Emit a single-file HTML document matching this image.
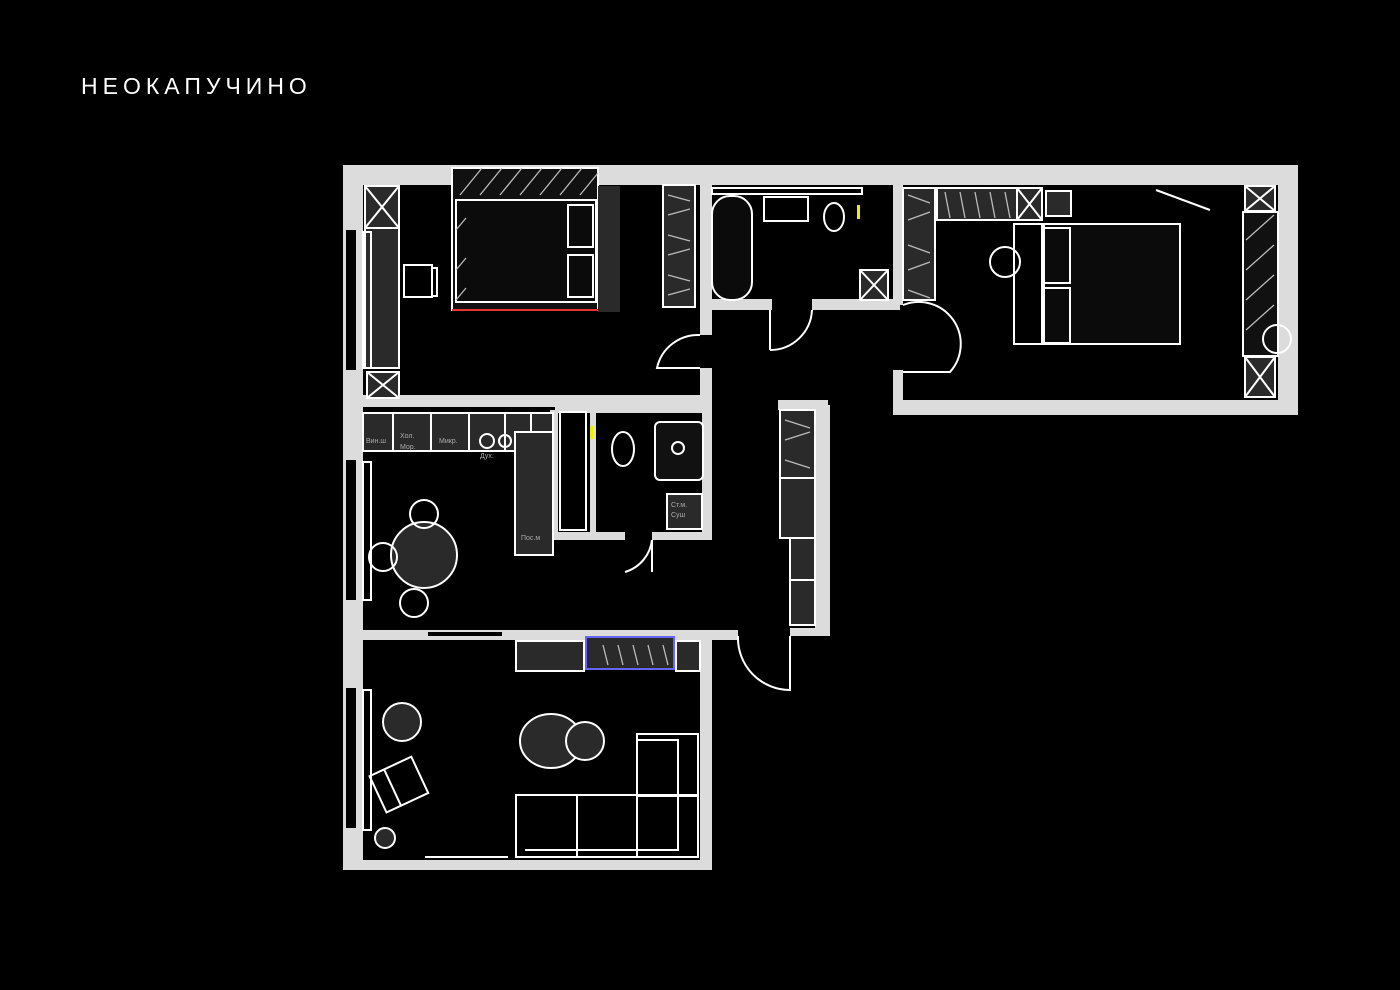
<!DOCTYPE html>
<html><head><meta charset="utf-8"><style>
html,body{margin:0;padding:0;background:#000;}
body{width:1400px;height:990px;position:relative;overflow:hidden;}
.t{position:absolute;left:81px;top:73px;color:#fff;font-family:"Liberation Sans","DejaVu Sans",sans-serif;font-size:23px;letter-spacing:5px;font-weight:normal;}
svg{position:absolute;left:0;top:0;}
</style></head><body>
<div class="t">НЕОКАПУЧИНО</div>
<svg width="1400" height="990" viewBox="0 0 1400 990" xmlns="http://www.w3.org/2000/svg">
<g fill="#dcdcdc">
<rect x="343" y="165" width="955" height="20"/>
<rect x="343" y="165" width="20" height="475"/>
<rect x="343" y="630" width="20" height="240"/>
<rect x="1278" y="165" width="20" height="250"/>
<rect x="893" y="400" width="405" height="15"/>
<rect x="893" y="185" width="10" height="120"/>
<rect x="893" y="370" width="10" height="40"/>
<rect x="343" y="395" width="367" height="12"/>
<rect x="700" y="185" width="12" height="150"/>
<rect x="700" y="368" width="12" height="40"/>
<rect x="712" y="299" width="60" height="11"/>
<rect x="812" y="299" width="88" height="11"/>
<rect x="815" y="405" width="15" height="230"/>
<rect x="778" y="400" width="50" height="10"/>
<rect x="343" y="630" width="395" height="10"/>
<rect x="790" y="628" width="40" height="8"/>
<rect x="555" y="405" width="155" height="8"/>
<rect x="550" y="410" width="8" height="130"/>
<rect x="590" y="410" width="6" height="128"/>
<rect x="550" y="532" width="75" height="8"/>
<rect x="652" y="532" width="58" height="8"/>
<rect x="702" y="405" width="10" height="135"/>
<rect x="700" y="630" width="12" height="240"/>
<rect x="343" y="860" width="369" height="10"/>
</g>
<g fill="#000">
<rect x="346" y="230" width="10" height="140"/>
<rect x="346" y="460" width="10" height="140"/>
<rect x="346" y="688" width="10" height="140"/>
<rect x="428" y="632" width="74" height="4"/>
</g>
<g stroke="#fff" stroke-width="2" fill="none">
<rect x="365" y="186" width="34" height="42" fill="#2a2a2a"/>
<path d="M365 186L399 228M399 186L365 228"/>
<rect x="365" y="228" width="34" height="140" fill="#2a2a2a"/>
<rect x="363" y="232" width="8" height="136"/>
<rect x="367" y="372" width="32" height="26" fill="#2a2a2a"/>
<path d="M367 372L399 398M399 372L367 398"/>
<rect x="404" y="265" width="28" height="32"/>
<rect x="432" y="268" width="5" height="28"/>
<rect x="452" y="168" width="146" height="142" fill="#111"/>
<rect x="456" y="200" width="140" height="102" fill="#0b0b0b"/>
<rect x="568" y="205" width="25" height="42"/>
<rect x="568" y="255" width="25" height="42"/>
<rect x="598" y="186" width="22" height="126" fill="#2a2a2a" stroke="none"/>
<rect x="663" y="185" width="32" height="122" fill="#2a2a2a"/>
<rect x="712" y="188" width="150" height="6"/>
<rect x="712" y="196" width="40" height="104" rx="18" fill="#0b0b0b"/>
<rect x="764" y="197" width="44" height="24"/>
<ellipse cx="834" cy="217" rx="10" ry="14"/>
<rect x="860" y="270" width="28" height="30" fill="#2a2a2a"/>
<path d="M860 270L888 300M888 270L860 300"/>
<path d="M812 310 A42 42 0 0 1 770 350 M770 310V350"/>
<path d="M700 335 A42 42 0 0 0 657 368 H700"/>
<path d="M903 305 A42 42 0 0 1 950 372 H903"/>
<rect x="903" y="188" width="32" height="112" fill="#2a2a2a"/>
<rect x="937" y="188" width="80" height="32" fill="#2a2a2a"/>
<rect x="1017" y="188" width="25" height="32" fill="#2a2a2a"/>
<path d="M1017 188L1042 220M1042 188L1017 220"/>
<rect x="1046" y="191" width="25" height="25" fill="#2a2a2a"/>
<rect x="1014" y="224" width="28" height="120"/>
<rect x="1044" y="224" width="136" height="120" fill="#0b0b0b"/>
<rect x="1044" y="228" width="26" height="55"/>
<rect x="1044" y="288" width="26" height="55"/>
<circle cx="1005" cy="262" r="15"/>
<path d="M1156 190 L1210 210"/>
<rect x="1245" y="186" width="30" height="25" fill="#2a2a2a"/>
<path d="M1245 186L1275 211M1275 186L1245 211"/>
<rect x="1243" y="212" width="35" height="144" fill="#111"/>
<circle cx="1277" cy="339" r="14"/>
<rect x="1245" y="357" width="30" height="40" fill="#2a2a2a"/>
<path d="M1245 357L1275 397M1275 357L1245 397"/>
<rect x="363" y="413" width="30" height="38" fill="#2a2a2a"/>
<rect x="393" y="413" width="38" height="38" fill="#2a2a2a"/>
<rect x="431" y="413" width="38" height="38" fill="#2a2a2a"/>
<rect x="469" y="413" width="36" height="38" fill="#2a2a2a"/>
<rect x="505" y="413" width="26" height="38" fill="#2a2a2a"/>
<rect x="531" y="413" width="22" height="142" fill="#2a2a2a"/>
<rect x="515" y="432" width="38" height="123" fill="#2a2a2a"/>
<circle cx="487" cy="441" r="7"/><circle cx="505" cy="441" r="6"/>
<rect x="363" y="462" width="8" height="138"/>
<circle cx="424" cy="555" r="33" fill="#2a2a2a"/>
<circle cx="424" cy="514" r="14"/><circle cx="383" cy="557" r="14"/><circle cx="414" cy="603" r="14"/>
<rect x="560" y="412" width="26" height="118" fill="#000"/>
<ellipse cx="623" cy="449" rx="11" ry="17"/>
<rect x="655" y="422" width="48" height="58" rx="5" fill="#111"/>
<circle cx="678" cy="448" r="6"/>
<rect x="667" y="494" width="35" height="35" fill="#2a2a2a"/>
<path d="M652 540 A38 38 0 0 1 625 572 M652 540V572"/>
<rect x="780" y="410" width="35" height="68" fill="#2a2a2a"/>
<rect x="780" y="478" width="35" height="60" fill="#2a2a2a"/>
<rect x="790" y="538" width="25" height="42" fill="#2a2a2a"/>
<rect x="790" y="580" width="25" height="45" fill="#2a2a2a"/>
<path d="M738 636 A52 52 0 0 0 790 690 V636"/>
<rect x="516" y="641" width="68" height="30" fill="#2a2a2a"/>
<rect x="586" y="637" width="88" height="32" fill="#2a2a2a" stroke="#66f"/>
<rect x="676" y="641" width="24" height="30" fill="#2a2a2a"/>
<rect x="363" y="690" width="8" height="140"/>
<circle cx="402" cy="722" r="19" fill="#2a2a2a"/>
<ellipse cx="551" cy="741" rx="31" ry="27" fill="#2a2a2a"/>
<circle cx="585" cy="741" r="19" fill="#2a2a2a"/>
<g transform="rotate(-25 398 785)"><rect x="376" y="765" width="46" height="40"/><path d="M392 765V805"/></g>
<circle cx="385" cy="838" r="10" fill="#2a2a2a"/>
<rect x="516" y="795" width="182" height="62"/>
<rect x="637" y="734" width="61" height="62"/>
<rect x="637" y="740" width="41" height="110"/>
<path d="M577 795V857M637 795V857M525 850H678"/>
<path d="M425 857H508"/>
</g>
<g stroke="#bbb" stroke-width="1.3">
<path d="M460 195l22-27M480 195l22-27M500 195l22-27M520 195l22-27M540 195l22-27M560 195l22-27M580 195l18-22M456 230l10-12M456 270l10-12M456 300l10-12"/>
<path d="M1246 240l28-25M1246 270l28-25M1246 300l28-25M1246 330l28-25"/>
<path d="M668 195l22 6M668 215l22-6M668 235l22 6M668 255l22-6M668 275l22 6M668 295l22-6M908 195l22 8M908 220l22-8M908 245l22 8M908 270l22-8M908 290l22 8M945 192l5 26M960 192l5 26M975 192l5 26M990 192l5 26M1005 192l5 26M785 420l25 8M785 440l25-8M785 460l25 8M603 645l5 20M618 645l5 20M633 645l5 20M648 645l5 20M663 645l5 20"/>
</g>
<rect x="452" y="309" width="146" height="2" fill="#e33"/>
<rect x="857" y="205" width="3" height="14" fill="#ee0"/>
<rect x="590" y="426" width="3" height="13" fill="#ee0"/>
<g fill="#aaa" font-family="Liberation Sans,sans-serif" font-size="7">
<text x="366" y="443">Вин.ш</text><text x="400" y="438">Хол.</text><text x="400" y="449">Мор.</text>
<text x="439" y="443">Микр.</text><text x="480" y="458">Дух.</text><text x="521" y="540">Пос.м</text>
<text x="671" y="507">Ст.м.</text><text x="671" y="517">Суш</text>
</g>
</svg>
</body></html>
